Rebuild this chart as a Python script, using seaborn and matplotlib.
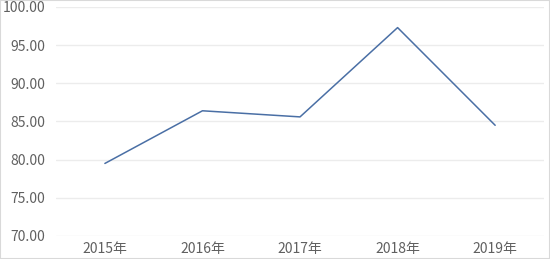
import matplotlib
matplotlib.use("Agg")
import matplotlib.pyplot as plt
import seaborn as sns
import pandas as pd

years = ["2015年", "2016年", "2017年", "2018年", "2019年"]
values = [79.5, 86.4, 85.6, 97.3, 84.5]
yticks = [70, 75, 80, 85, 90, 95, 100]

sns.set_style("white")
plt.rcParams['font.family'] = ['Noto Sans CJK SC', 'DejaVu Sans']

df = pd.DataFrame({"year": years, "value": values})
df["pos"] = range(len(years))

fig = plt.figure(figsize=(5.5, 2.59), dpi=100)
ax = fig.add_axes([0.102, 0.089, 0.887, 0.884])
sns.lineplot(data=df, x="pos", y="value", ax=ax, color="#4a6fa5", linewidth=1.1)
ax.set_xlim(-0.5, len(years) - 0.5)
ax.set_ylim(70, 100)
ax.set_yticks(yticks)
ax.set_yticklabels([f"{v:.2f}" for v in yticks])
ax.set_xticks(range(len(years)))
ax.set_xticklabels(years)
ax.set_xlabel("")
ax.set_ylabel("")
ax.grid(axis="y", color="#ececec", linewidth=1)
ax.set_axisbelow(True)
for s in ax.spines.values():
    s.set_visible(False)
ax.tick_params(axis="both", length=0, colors="#606060", labelsize=10)
ax.tick_params(axis="y", pad=8)
ax.tick_params(axis="x", pad=4)
fig.patches.append(plt.Rectangle((0, 0), 1, 1, transform=fig.transFigure,
                                  fill=False, edgecolor="#d9d9d9", linewidth=1.5))
fig.savefig("out.png", dpi=100)
